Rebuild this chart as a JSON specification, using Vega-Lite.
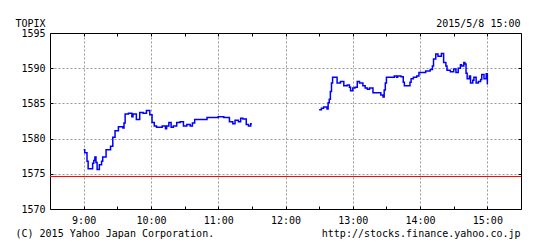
{
  "$schema": "https://vega.github.io/schema/vega-lite/v6.json",
  "width": 471,
  "height": 176,
  "autosize": "none",
  "padding": {"left": 50, "top": 33, "right": 36, "bottom": 41},
  "background": "white",
  "config": {
    "view": {"stroke": "#000000", "strokeWidth": 1},
    "font": "DejaVu Sans Mono",
    "axis": {
      "labelFont": "DejaVu Sans Mono",
      "labelFontSize": 10,
      "labelColor": "#000000",
      "titleFont": "DejaVu Sans Mono",
      "titleFontSize": 10,
      "titleFontWeight": "normal",
      "titleColor": "#000000",
      "tickColor": "#000000",
      "gridColor": "#999999",
      "gridDash": [2, 2],
      "domain": false
    }
  },
  "datasets": {
    "px": [
      {"t": 540, "v": 1578.4, "s": "am"},
      {"t": 541, "v": 1578.0, "s": "am"},
      {"t": 543, "v": 1576.8, "s": "am"},
      {"t": 544, "v": 1575.7, "s": "am"},
      {"t": 548, "v": 1576.5, "s": "am"},
      {"t": 549, "v": 1576.9, "s": "am"},
      {"t": 550, "v": 1577.4, "s": "am"},
      {"t": 551, "v": 1576.6, "s": "am"},
      {"t": 552, "v": 1575.6, "s": "am"},
      {"t": 554, "v": 1576.3, "s": "am"},
      {"t": 556, "v": 1576.8, "s": "am"},
      {"t": 557, "v": 1577.4, "s": "am"},
      {"t": 560, "v": 1578.4, "s": "am"},
      {"t": 564, "v": 1578.9, "s": "am"},
      {"t": 566, "v": 1580.2, "s": "am"},
      {"t": 568, "v": 1581.1, "s": "am"},
      {"t": 571, "v": 1581.7, "s": "am"},
      {"t": 575, "v": 1581.5, "s": "am"},
      {"t": 576, "v": 1582.2, "s": "am"},
      {"t": 577, "v": 1583.5, "s": "am"},
      {"t": 580, "v": 1583.6, "s": "am"},
      {"t": 583, "v": 1583.1, "s": "am"},
      {"t": 584, "v": 1583.5, "s": "am"},
      {"t": 587, "v": 1582.7, "s": "am"},
      {"t": 590, "v": 1583.7, "s": "am"},
      {"t": 593, "v": 1583.6, "s": "am"},
      {"t": 596, "v": 1584.0, "s": "am"},
      {"t": 599, "v": 1583.4, "s": "am"},
      {"t": 601, "v": 1582.3, "s": "am"},
      {"t": 603, "v": 1581.8, "s": "am"},
      {"t": 605, "v": 1581.6, "s": "am"},
      {"t": 610, "v": 1581.8, "s": "am"},
      {"t": 613, "v": 1581.4, "s": "am"},
      {"t": 614, "v": 1581.8, "s": "am"},
      {"t": 616, "v": 1582.3, "s": "am"},
      {"t": 618, "v": 1581.6, "s": "am"},
      {"t": 620, "v": 1581.8, "s": "am"},
      {"t": 623, "v": 1582.3, "s": "am"},
      {"t": 626, "v": 1582.4, "s": "am"},
      {"t": 629, "v": 1581.8, "s": "am"},
      {"t": 632, "v": 1582.0, "s": "am"},
      {"t": 635, "v": 1581.8, "s": "am"},
      {"t": 637, "v": 1582.2, "s": "am"},
      {"t": 639, "v": 1582.7, "s": "am"},
      {"t": 650, "v": 1583.0, "s": "am"},
      {"t": 660, "v": 1583.1, "s": "am"},
      {"t": 665, "v": 1583.0, "s": "am"},
      {"t": 670, "v": 1582.4, "s": "am"},
      {"t": 673, "v": 1582.1, "s": "am"},
      {"t": 675, "v": 1582.6, "s": "am"},
      {"t": 678, "v": 1582.4, "s": "am"},
      {"t": 680, "v": 1582.9, "s": "am"},
      {"t": 682, "v": 1582.8, "s": "am"},
      {"t": 685, "v": 1582.0, "s": "am"},
      {"t": 687, "v": 1581.8, "s": "am"},
      {"t": 689, "v": 1582.1, "s": "am"},
      {"t": 690, "v": 1582.1, "s": "am"},
      {"t": 750, "v": 1584.1, "s": "pm"},
      {"t": 752, "v": 1584.3, "s": "pm"},
      {"t": 754, "v": 1584.5, "s": "pm"},
      {"t": 757, "v": 1584.2, "s": "pm"},
      {"t": 758, "v": 1585.1, "s": "pm"},
      {"t": 759, "v": 1585.6, "s": "pm"},
      {"t": 760, "v": 1586.7, "s": "pm"},
      {"t": 761, "v": 1587.9, "s": "pm"},
      {"t": 762, "v": 1588.7, "s": "pm"},
      {"t": 766, "v": 1587.9, "s": "pm"},
      {"t": 769, "v": 1588.1, "s": "pm"},
      {"t": 772, "v": 1587.5, "s": "pm"},
      {"t": 775, "v": 1587.6, "s": "pm"},
      {"t": 777, "v": 1587.3, "s": "pm"},
      {"t": 778, "v": 1586.8, "s": "pm"},
      {"t": 780, "v": 1587.2, "s": "pm"},
      {"t": 782, "v": 1587.3, "s": "pm"},
      {"t": 784, "v": 1588.1, "s": "pm"},
      {"t": 786, "v": 1587.9, "s": "pm"},
      {"t": 789, "v": 1587.5, "s": "pm"},
      {"t": 791, "v": 1587.2, "s": "pm"},
      {"t": 793, "v": 1587.0, "s": "pm"},
      {"t": 795, "v": 1587.2, "s": "pm"},
      {"t": 798, "v": 1586.5, "s": "pm"},
      {"t": 805, "v": 1586.2, "s": "pm"},
      {"t": 807, "v": 1585.9, "s": "pm"},
      {"t": 808, "v": 1586.9, "s": "pm"},
      {"t": 809, "v": 1587.9, "s": "pm"},
      {"t": 810, "v": 1588.7, "s": "pm"},
      {"t": 817, "v": 1588.9, "s": "pm"},
      {"t": 819, "v": 1588.7, "s": "pm"},
      {"t": 820, "v": 1588.9, "s": "pm"},
      {"t": 823, "v": 1588.8, "s": "pm"},
      {"t": 825, "v": 1588.0, "s": "pm"},
      {"t": 826, "v": 1587.5, "s": "pm"},
      {"t": 831, "v": 1588.0, "s": "pm"},
      {"t": 832, "v": 1588.5, "s": "pm"},
      {"t": 834, "v": 1588.7, "s": "pm"},
      {"t": 837, "v": 1588.9, "s": "pm"},
      {"t": 839, "v": 1589.4, "s": "pm"},
      {"t": 845, "v": 1589.6, "s": "pm"},
      {"t": 849, "v": 1589.8, "s": "pm"},
      {"t": 851, "v": 1590.3, "s": "pm"},
      {"t": 852, "v": 1591.3, "s": "pm"},
      {"t": 854, "v": 1592.0, "s": "pm"},
      {"t": 856, "v": 1591.7, "s": "pm"},
      {"t": 859, "v": 1592.1, "s": "pm"},
      {"t": 861, "v": 1590.8, "s": "pm"},
      {"t": 863, "v": 1590.3, "s": "pm"},
      {"t": 864, "v": 1589.7, "s": "pm"},
      {"t": 867, "v": 1589.5, "s": "pm"},
      {"t": 870, "v": 1589.9, "s": "pm"},
      {"t": 872, "v": 1589.4, "s": "pm"},
      {"t": 874, "v": 1590.0, "s": "pm"},
      {"t": 876, "v": 1590.5, "s": "pm"},
      {"t": 877, "v": 1590.3, "s": "pm"},
      {"t": 879, "v": 1590.8, "s": "pm"},
      {"t": 880, "v": 1590.6, "s": "pm"},
      {"t": 881, "v": 1589.3, "s": "pm"},
      {"t": 882, "v": 1588.5, "s": "pm"},
      {"t": 884, "v": 1588.9, "s": "pm"},
      {"t": 885, "v": 1587.9, "s": "pm"},
      {"t": 887, "v": 1588.3, "s": "pm"},
      {"t": 888, "v": 1588.7, "s": "pm"},
      {"t": 890, "v": 1587.9, "s": "pm"},
      {"t": 892, "v": 1588.1, "s": "pm"},
      {"t": 894, "v": 1588.4, "s": "pm"},
      {"t": 895, "v": 1589.1, "s": "pm"},
      {"t": 897, "v": 1588.5, "s": "pm"},
      {"t": 899, "v": 1589.2, "s": "pm"},
      {"t": 900, "v": 1587.7, "s": "pm"}
    ],
    "prev": [{"t0": 510, "t1": 930, "v": 1574.62}]
  },
  "layer": [
    {
      "data": {"name": "px"},
      "mark": {"type": "line", "interpolate": "step-after", "color": "#0000ff", "strokeWidth": 1.5},
      "encoding": {
        "x": {
          "field": "t",
          "type": "quantitative",
          "scale": {"domain": [510, 930], "nice": false, "zero": false},
          "axis": {
            "orient": "bottom",
            "values": [540, 570, 600, 630, 660, 690, 720, 750, 780, 810, 840, 870, 900],
            "labelExpr": "datum.value % 60 == 0 ? floor(datum.value / 60) + ':00' : ''",
            "labelOverlap": false,
            "labelFlush": false,
            "grid": true,
            "gridOpacity": {"condition": {"test": "datum.value % 60 == 0", "value": 1}, "value": 0},
            "tickSize": -3,
            "labelPadding": 9,
            "title": "(C) 2015 Yahoo Japan Corporation.",
            "titleX": -35,
            "titleY": 27,
            "titleAlign": "left",
            "titleBaseline": "alphabetic",
            "titleAnchor": "start"
          }
        },
        "y": {
          "field": "v",
          "type": "quantitative",
          "scale": {"domain": [1570, 1595], "nice": false, "zero": false},
          "axis": {
            "orient": "left",
            "values": [1570, 1575, 1580, 1585, 1590, 1595],
            "format": "d",
            "labelOverlap": false,
            "labelFlush": false,
            "grid": true,
            "gridOpacity": {"condition": {"test": "datum.value == 1570 || datum.value == 1595", "value": 0}, "value": 1},
            "tickSize": -3,
            "labelPadding": 8,
            "title": "TOPIX",
            "titleAngle": 0,
            "titleX": -35,
            "titleY": -7,
            "titleAlign": "left",
            "titleBaseline": "alphabetic",
            "titleAnchor": "start"
          }
        },
        "detail": {"field": "s"}
      }
    },
    {
      "data": {"name": "prev"},
      "mark": {"type": "rule", "color": "#ff0000", "strokeWidth": 1},
      "encoding": {
        "x": {
          "field": "t0",
          "type": "quantitative",
          "scale": {"domain": [510, 930], "nice": false, "zero": false},
          "axis": {
            "orient": "top",
            "values": [540, 570, 600, 630, 660, 690, 720, 750, 780, 810, 840, 870, 900],
            "labels": false,
            "grid": false,
            "tickSize": -3,
            "title": "http://stocks.finance.yahoo.co.jp",
            "titleX": 470,
            "titleY": 203,
            "titleAlign": "right",
            "titleBaseline": "alphabetic",
            "titleAnchor": "end"
          }
        },
        "x2": {"field": "t1"},
        "y": {
          "field": "v",
          "type": "quantitative",
          "scale": {"domain": [1570, 1595], "nice": false, "zero": false},
          "axis": {
            "orient": "right",
            "values": [1570, 1575, 1580, 1585, 1590, 1595],
            "labels": false,
            "grid": false,
            "tickSize": -3,
            "title": "2015/5/8 15:00",
            "titleAngle": 0,
            "titleX": -1,
            "titleY": -7,
            "titleAlign": "right",
            "titleBaseline": "alphabetic",
            "titleAnchor": "end"
          }
        }
      }
    }
  ],
  "resolve": {"axis": {"x": "independent", "y": "independent"}}
}
